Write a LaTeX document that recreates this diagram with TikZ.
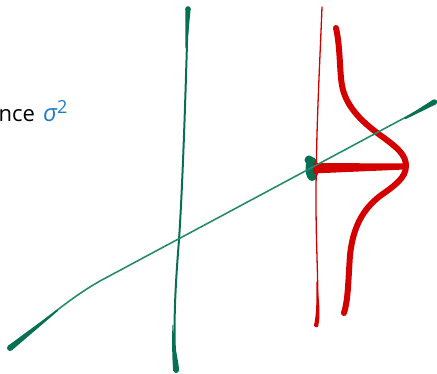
\documentclass[tikz,border=0pt]{standalone}
\usepackage{fontspec}
\setmainfont{Open Sans}
\definecolor{gline}{RGB}{38,140,108}
\definecolor{gdark}{RGB}{8,112,82}
\definecolor{rred}{RGB}{212,0,0}
\definecolor{sigblue}{RGB}{30,125,200}
\tikzset{
  greenstroke/.style={draw=gdark,line cap=round,line join=round},
  regline/.style={draw=gline,line width=1.6pt,line cap=round},
  redstroke/.style={draw=rred,line cap=round,line join=round},
}
\begin{document}
\begin{tikzpicture}[x=1pt,y=-1pt]
\useasboundingbox (0,0) rectangle (437,374);
% label
\node[anchor=base west,inner sep=0pt,font=\fontsize{22}{26}\selectfont] (lab) at (-1.5,122)
  {\makebox[44.5pt][l]{nce}\textcolor{sigblue}{\fontsize{24}{28}\selectfont\itshape σ\raisebox{8.5pt}{\fontsize{18}{20}\selectfont\upshape 2}}};
% green vertical line
\draw[greenstroke,line width=2pt] (188,8) .. controls (186,80) and (183,180) .. (179,240) .. controls (175,290) and (173,330) .. (176,372);
\fill[gdark] (188,9) circle [radius=2.8];
\fill[gdark] (185.4,9) -- (190.6,9) -- (187,48) -- (185.5,48) -- cycle;
\fill[gdark] (173.3,325) .. controls (174,345) and (178,358) .. (179,369) -- (173.2,371) .. controls (172.3,360) and (171.8,345) .. (172.4,325) -- cycle;
\fill[gdark] (176.2,370) circle [radius=2.9];
% green point
\fill[gdark] (312,169) ellipse [x radius=6.5, y radius=12];
\fill[gdark] (309,160) circle [radius=4.5];
% red vertical line
\draw[redstroke,line width=1.3pt] (322,7) .. controls (320,60) and (316,130) .. (316,200) .. controls (316,260) and (320,300) .. (316,326);
\fill[rred] (317.4,282) .. controls (318.5,300) and (320.8,312) .. (318.6,324) -- (314,326) .. controls (316.8,312) and (316.4,300) .. (316.3,282) -- cycle;
\fill[rred] (316.3,325) circle [radius=2.3];
% red horizontal bar
\fill[rred] (313,163) -- (405,163.5) -- (405,169.5) -- (313,173.5) -- cycle;
% red density curve
\draw[redstroke,line width=6pt] (336,28) .. controls (341,50) and (339,75) .. (343,90) .. controls (348,108) and (362,122) .. (380,135) .. controls (398,148) and (406,155) .. (406,166) .. controls (406,178) and (394,186) .. (380,196) .. controls (362,210) and (353,228) .. (350,255) .. controls (348,285) and (348,300) .. (344,313);
% regression line
\draw[regline] (10,348) .. controls (45,320) and (70,298) .. (100,281) -- (436,101);
\fill[gdark] (10,348) circle [radius=3];
\fill[gdark] (8.1,345.7) -- (57.3,309.6) -- (58.1,310.8) -- (11.9,350.3) -- cycle;
\fill[gdark] (434.5,102) circle [radius=2.7];
\fill[gdark] (404.7,117.8) -- (433.2,99.6) -- (435.8,104.4) -- (405.5,119.2) -- cycle;
\end{tikzpicture}
\end{document}
